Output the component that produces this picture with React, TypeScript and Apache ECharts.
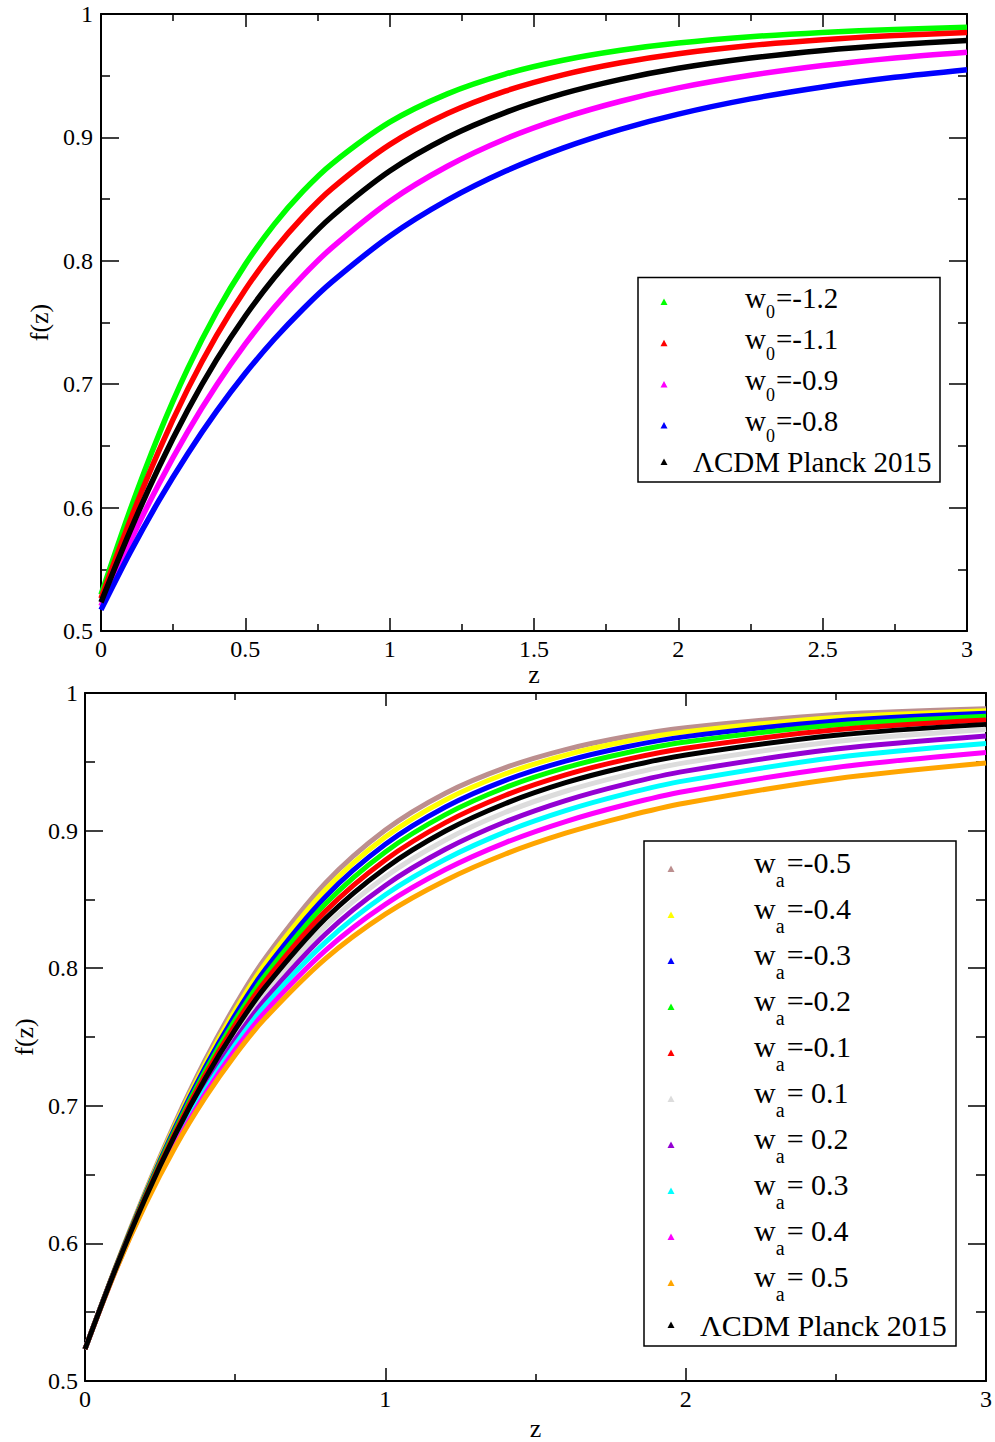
import React, { useEffect, useRef } from "react";
import * as echarts from "echarts";

// ---------- data: top panel (w0 variations) ----------
const zTop = [0, 0.1, 0.2, 0.3, 0.4, 0.5, 0.6, 0.7, 0.8, 1.0, 1.2, 1.4, 1.6, 1.8, 2.0, 2.25, 2.5, 2.75, 3.0];
const fW0m12 = [0.5294, 0.5976, 0.6589, 0.7124, 0.7583, 0.7971, 0.8295, 0.8564, 0.8786, 0.9123, 0.9353, 0.9513, 0.9625, 0.9706, 0.9765, 0.9816, 0.9851, 0.9875, 0.9893];
const fW0m11 = [0.5263, 0.5891, 0.6458, 0.6958, 0.7394, 0.7768, 0.8087, 0.8357, 0.8585, 0.8941, 0.9193, 0.9375, 0.9507, 0.9605, 0.9678, 0.9744, 0.9791, 0.9825, 0.9850];
const fW0m09 = [0.5202, 0.5719, 0.6190, 0.6614, 0.6991, 0.7326, 0.7621, 0.7880, 0.8107, 0.8481, 0.8766, 0.8987, 0.9158, 0.9293, 0.9401, 0.9503, 0.9582, 0.9643, 0.9690];
const fW0m08 = [0.5171, 0.5632, 0.6054, 0.6435, 0.6779, 0.7088, 0.7364, 0.7610, 0.7829, 0.8199, 0.8491, 0.8725, 0.8913, 0.9065, 0.9189, 0.9312, 0.9409, 0.9487, 0.9549];
const fLcdmTop = [0.5232, 0.5805, 0.6325, 0.6788, 0.7197, 0.7553, 0.7862, 0.8129, 0.8359, 0.8727, 0.8999, 0.9201, 0.9354, 0.9470, 0.9560, 0.9643, 0.9705, 0.9751, 0.9786];

// ---------- data: bottom panel (wa variations) ----------
const zBot = [0, 0.1, 0.2, 0.3, 0.4, 0.5, 0.6, 0.8, 1.0, 1.2, 1.4, 1.6, 1.8, 2.0, 2.5, 3.0];
const fWam05 = [0.5232, 0.5818, 0.6371, 0.6877, 0.7331, 0.7729, 0.8073, 0.8617, 0.9004, 0.9272, 0.9458, 0.9589, 0.9682, 0.9748, 0.9844, 0.9886];
const fWam04 = [0.5232, 0.5816, 0.6361, 0.6860, 0.7304, 0.7694, 0.8032, 0.8568, 0.8953, 0.9223, 0.9413, 0.9549, 0.9647, 0.9718, 0.9822, 0.9871];
const fWam03 = [0.5232, 0.5813, 0.6352, 0.6842, 0.7278, 0.7660, 0.7991, 0.8518, 0.8900, 0.9171, 0.9365, 0.9505, 0.9608, 0.9683, 0.9797, 0.9853];
const fWam02 = [0.5232, 0.5810, 0.6343, 0.6824, 0.7251, 0.7624, 0.7948, 0.8466, 0.8845, 0.9116, 0.9313, 0.9457, 0.9564, 0.9644, 0.9767, 0.9831];
const fWam01 = [0.5232, 0.5808, 0.6334, 0.6806, 0.7224, 0.7589, 0.7905, 0.8413, 0.8787, 0.9058, 0.9257, 0.9405, 0.9516, 0.9599, 0.9733, 0.9804];
const fWap01 = [0.5232, 0.5802, 0.6315, 0.6770, 0.7170, 0.7517, 0.7818, 0.8304, 0.8665, 0.8932, 0.9133, 0.9286, 0.9403, 0.9494, 0.9647, 0.9734];
const fWap02 = [0.5232, 0.5800, 0.6306, 0.6752, 0.7142, 0.7481, 0.7774, 0.8247, 0.8601, 0.8864, 0.9064, 0.9218, 0.9338, 0.9432, 0.9593, 0.9688];
const fWap03 = [0.5232, 0.5797, 0.6297, 0.6734, 0.7115, 0.7444, 0.7729, 0.8188, 0.8534, 0.8792, 0.8991, 0.9145, 0.9267, 0.9363, 0.9531, 0.9633];
const fWap04 = [0.5232, 0.5794, 0.6288, 0.6716, 0.7087, 0.7407, 0.7683, 0.8128, 0.8464, 0.8717, 0.8913, 0.9066, 0.9188, 0.9286, 0.9459, 0.9568];
const fWap05 = [0.5232, 0.5792, 0.6278, 0.6699, 0.7059, 0.7370, 0.7637, 0.8068, 0.8393, 0.8638, 0.8830, 0.8981, 0.9102, 0.9200, 0.9377, 0.9491];
const fLcdmBot = [0.5232, 0.5805, 0.6325, 0.6788, 0.7197, 0.7553, 0.7862, 0.8359, 0.8727, 0.8997, 0.9197, 0.9348, 0.9462, 0.9550, 0.9693, 0.9772];

const topSeries = [
  { sub: "0", val: "=-1.2", color: "#00ff00", data: fW0m12 },
  { sub: "0", val: "=-1.1", color: "#ff0000", data: fW0m11 },
  { sub: "0", val: "=-0.9", color: "#ff00ff", data: fW0m09 },
  { sub: "0", val: "=-0.8", color: "#0000ff", data: fW0m08 },
];
const botSeries = [
  { sub: "a", val: "=-0.5", color: "#bc8f8f", data: fWam05 },
  { sub: "a", val: "=-0.4", color: "#ffff00", data: fWam04 },
  { sub: "a", val: "=-0.3", color: "#0000ff", data: fWam03 },
  { sub: "a", val: "=-0.2", color: "#00ff00", data: fWam02 },
  { sub: "a", val: "=-0.1", color: "#ff0000", data: fWam01 },
  { sub: "a", val: "= 0.1", color: "#dcdcdc", data: fWap01 },
  { sub: "a", val: "= 0.2", color: "#9400d3", data: fWap02 },
  { sub: "a", val: "= 0.3", color: "#00ffff", data: fWap03 },
  { sub: "a", val: "= 0.4", color: "#ff00ff", data: fWap04 },
  { sub: "a", val: "= 0.5", color: "#ffa500", data: fWap05 },
];
const lcdmLabel = "\u039BCDM Planck 2015";

const FONT = "Liberation Serif";

function xAxisDef(grid: number, interval: number, pos: string, show: boolean, nameGap: number) {
  return {
    type: "value", gridIndex: grid, min: 0, max: 3, interval, position: pos,
    axisLine: { show: true, onZero: false, lineStyle: { color: "#000", width: 2 } },
    axisTick: { show: true, inside: true, length: 13, lineStyle: { color: "#000", width: 1.5 } },
    minorTick: { show: true, splitNumber: 2, length: 7, lineStyle: { color: "#000", width: 1.5 } },
    axisLabel: { show, margin: 6, color: "#000", fontFamily: FONT, fontSize: 24 },
    splitLine: { show: false },
    name: show ? "z" : "", nameLocation: "middle", nameGap,
    nameTextStyle: { color: "#000", fontFamily: FONT, fontSize: 26 },
  };
}
function yAxisDef(grid: number, pos: string, show: boolean, margin: number, nameGap: number, minorLen: number) {
  return {
    type: "value", gridIndex: grid, min: 0.5, max: 1, interval: 0.1, position: pos,
    axisLine: { show: true, onZero: false, lineStyle: { color: "#000", width: 2 } },
    axisTick: { show: true, inside: true, length: 18, lineStyle: { color: "#000", width: 1.5 } },
    minorTick: { show: true, splitNumber: 2, length: minorLen, lineStyle: { color: "#000", width: 1.5 } },
    axisLabel: { show, margin, color: "#000", fontFamily: FONT, fontSize: 24 },
    splitLine: { show: false },
    name: show ? "f(z)" : "", nameLocation: "middle", nameGap,
    nameTextStyle: { color: "#000", fontFamily: FONT, fontSize: 26 },
  };
}

function pairs(zs: number[], fs: number[]) {
  return zs.map((z, i) => [z, fs[i]]);
}

function tri(x: number, y: number, color: string) {
  return {
    type: "polygon",
    shape: { points: [[x - 3.5, y + 3], [x + 3.5, y + 3], [x, y - 3.5]] },
    style: { fill: color },
  };
}

function legendGraphics(
  box: { x: number; y: number; w: number; h: number },
  entries: { sub: string; val: string; color: string }[],
  iconX: number, iconY0: number, step: number,
  wX: number, baseY0: number, fontSize: number, subFont: number, subDy: number,
  lcdmX: number, lcdmIconY: number, lcdmBase: number
) {
  const els: any[] = [
    { type: "rect", shape: { x: box.x, y: box.y, width: box.w, height: box.h }, style: { fill: "#fff", stroke: "#000", lineWidth: 1.5 }, z: 100 },
  ];
  const mid = 0.34 * fontSize;
  const wWidth = 0.722 * fontSize;
  entries.forEach((e, i) => {
    const base = baseY0 + step * i;
    els.push({ ...tri(iconX, iconY0 + step * i, e.color), z: 101 });
    els.push({ type: "text", x: wX, y: base - mid, z: 101, style: { text: "w", fontFamily: FONT, fontSize, fill: "#000", verticalAlign: "middle", align: "left" } });
    els.push({ type: "text", x: wX + wWidth, y: base + subDy - 0.34 * subFont, z: 101, style: { text: e.sub, fontFamily: FONT, fontSize: subFont, fill: "#000", verticalAlign: "middle", align: "left" } });
    els.push({ type: "text", x: wX + wWidth + 0.5 * subFont + 1, y: base - mid, z: 101, style: { text: e.val, fontFamily: FONT, fontSize, fill: "#000", verticalAlign: "middle", align: "left" } });
  });
  els.push({ ...tri(iconX, lcdmIconY, "#000"), z: 101 });
  els.push({ type: "text", x: lcdmX, y: lcdmBase - mid, z: 101, style: { text: lcdmLabel, fontFamily: FONT, fontSize, fill: "#000", verticalAlign: "middle", align: "left" } });
  return els;
}

export default function App() {
  const ref = useRef<HTMLDivElement>(null);
  useEffect(() => {
    if (!ref.current) return;
    const chart = echarts.init(ref.current, undefined, { renderer: "svg" });
    const series: any[] = [];
    topSeries.forEach((s) => {
      series.push({
        type: "line", name: "w0" + s.val, xAxisIndex: 0, yAxisIndex: 0, data: pairs(zTop, s.data),
        smooth: 0.3, symbol: "none", lineStyle: { color: s.color, width: 5.5 }, itemStyle: { color: s.color },
      });
    });
    series.push({
      type: "line", name: lcdmLabel + " (top)", xAxisIndex: 0, yAxisIndex: 0, data: pairs(zTop, fLcdmTop),
      smooth: 0.3, symbol: "none", lineStyle: { color: "#000", width: 5.5 }, itemStyle: { color: "#000" },
    });
    botSeries.forEach((s) => {
      series.push({
        type: "line", name: "wa" + s.val, xAxisIndex: 2, yAxisIndex: 2, data: pairs(zBot, s.data),
        smooth: 0.3, symbol: "none", lineStyle: { color: s.color, width: 5 }, itemStyle: { color: s.color },
      });
    });
    series.push({
      type: "line", name: lcdmLabel, xAxisIndex: 2, yAxisIndex: 2, data: pairs(zBot, fLcdmBot),
      smooth: 0.3, symbol: "none", lineStyle: { color: "#000", width: 5 }, itemStyle: { color: "#000" },
    });

    const graphic = [
      ...legendGraphics({ x: 638, y: 277.5, w: 302, h: 204.5 }, topSeries, 664, 302, 41.2, 745, 307.5, 29, 18, 11, 693, 462, 472),
      ...legendGraphics({ x: 644, y: 841, w: 312, h: 505 }, botSeries, 671, 869, 46, 754, 873, 30, 20, 13.5, 700, 1325, 1335.5),
    ];

    chart.setOption({
      animation: false,
      backgroundColor: "#fff",
      grid: [
        { left: 101, top: 14, width: 866, height: 617 },
        { left: 85, top: 693, width: 901, height: 692 },
      ],
      xAxis: [
        xAxisDef(0, 0.5, "bottom", true, 24),
        xAxisDef(0, 0.5, "top", false, 24),
        xAxisDef(1, 1, "bottom", true, 34),
        xAxisDef(1, 1, "top", false, 34),
      ],
      yAxis: [
        yAxisDef(0, "left", true, 8, 48, 9),
        yAxisDef(0, "right", false, 8, 48, 9),
        yAxisDef(1, "left", true, 7, 47, 10),
        yAxisDef(1, "right", false, 7, 47, 10),
      ],
      series,
      graphic,
    });
    return () => chart.dispose();
  }, []);
  return <div ref={ref} style={{ position: "absolute", left: 0, top: 0, width: 995, height: 1442 }} />;
}
